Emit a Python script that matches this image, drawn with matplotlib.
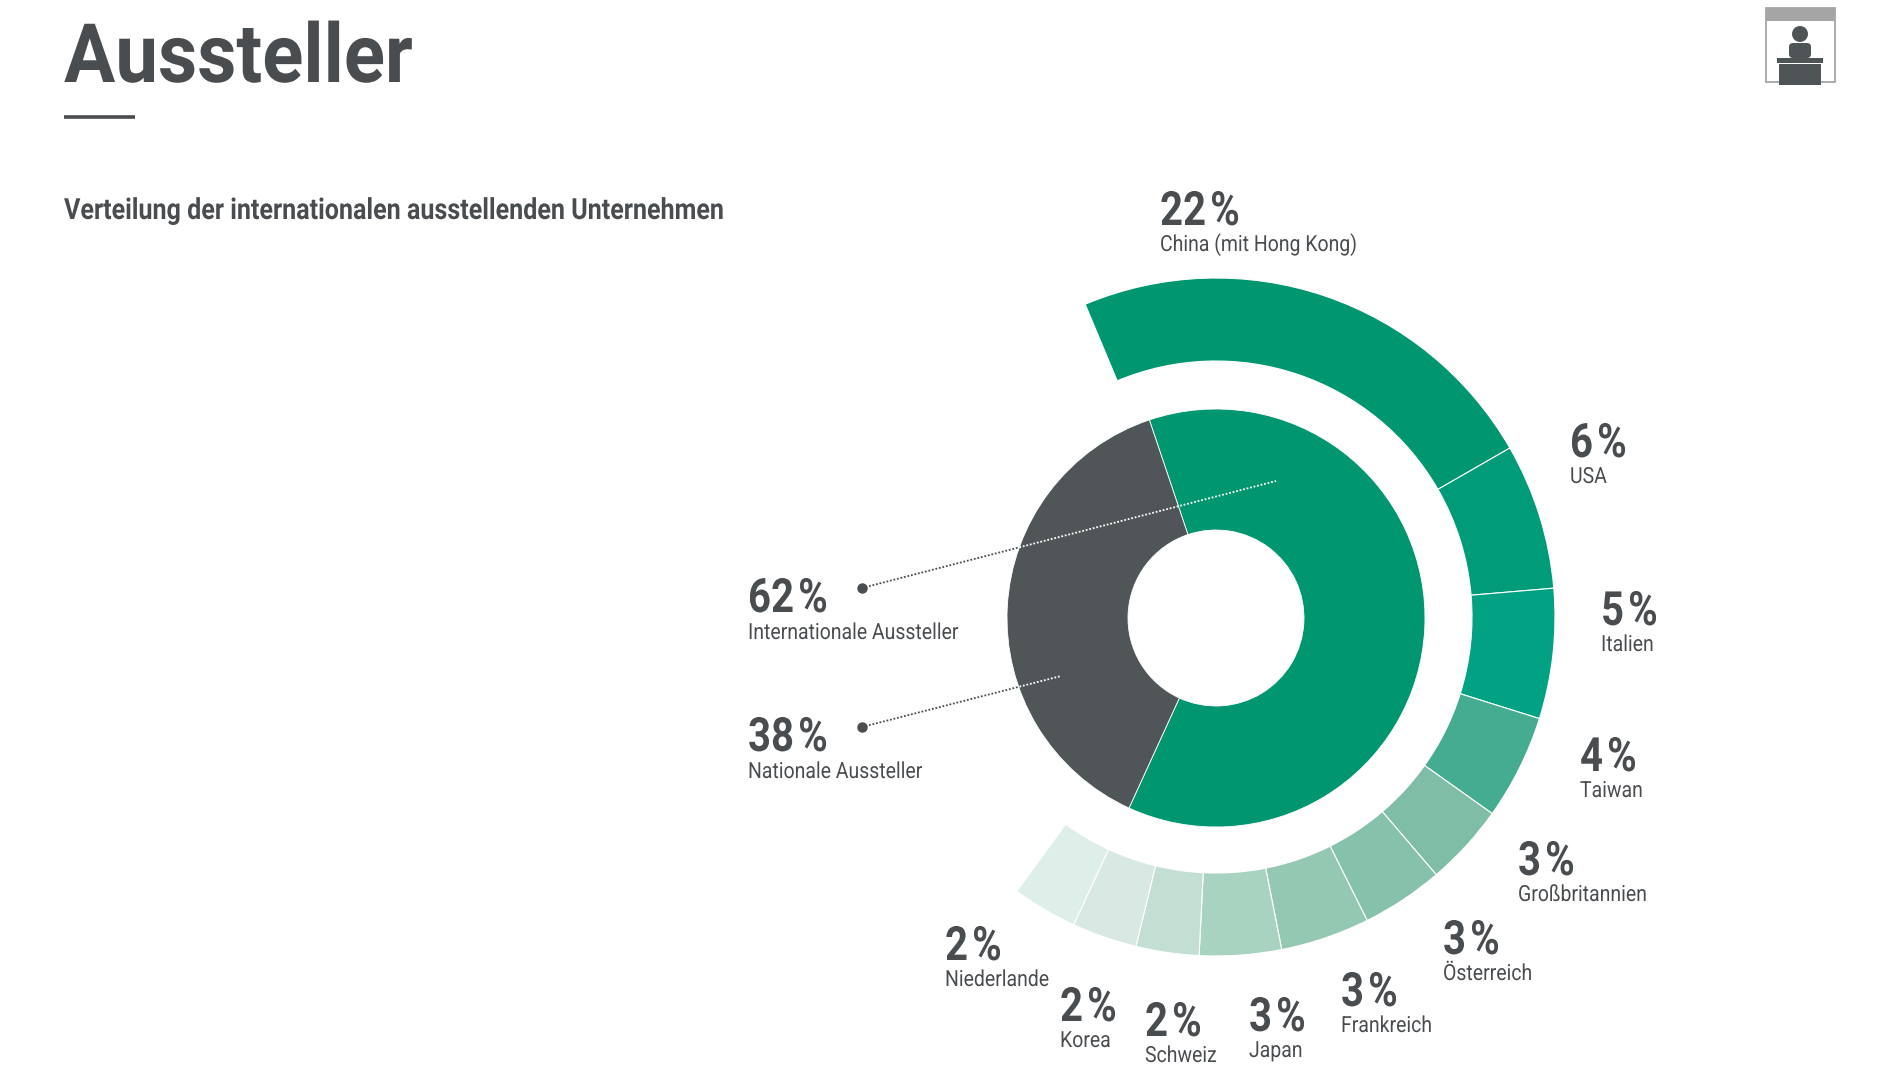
import matplotlib
matplotlib.use('Agg')
import matplotlib.pyplot as plt
from matplotlib.patches import Circle, Rectangle, FancyBboxPatch
from matplotlib.patheffects import AbstractPathEffect
from matplotlib.transforms import Affine2D

# outer ring, % labels
countries = ['China (mit Hong Kong)', 'USA', 'Italien', 'Taiwan', 'Großbritannien', 'Österreich',
             'Frankreich', 'Japan', 'Schweiz', 'Korea', 'Niederlande']
country_pct = [22, 6, 5, 4, 3, 3, 3, 3, 2, 2, 2]
# arc length of each segment as drawn, % of the full circle (does not follow the labels exactly)
country_arc = [23.0, 6.95, 6.2, 5.0, 3.9, 3.9, 4.25, 3.9, 3.0, 3.1, 3.1]
country_col = ['#00966F', '#009B78', '#00A283', '#45AC91', '#7FBDA6', '#85C1AB',
               '#95C8B3', '#A9D3C1', '#C3DFD3', '#D8E9E3', '#DEEEE9']

# inner ring
groups = ['Internationale Aussteller', 'Nationale Aussteller']
group_pct = [62, 38]
group_col = ['#00966F', '#505558']

TEXT = '#4A4D50'
FONT = ['Roboto', 'DejaVu Sans']
H = 1069
cx, cy = 1216, H - 618


# no condensed font installed, so squeeze the glyphs sideways around the text origin
class Squeeze(AbstractPathEffect):
    def __init__(self, sx):
        super().__init__()
        self.sx = sx

    def draw_path(self, renderer, gc, tpath, affine, rgbFace=None):
        m = affine.get_matrix().copy()
        m[0, 0] *= self.sx
        m[0, 1] *= self.sx
        renderer.draw_path(gc, tpath, Affine2D(m), rgbFace)


def label(x, y, s, size, sx, weight='normal'):
    ax.text(x, H - y, s, fontsize=size, fontweight=weight, color=TEXT, family=FONT,
            va='baseline', path_effects=[Squeeze(sx)])


fig = plt.figure(figsize=(19, 10.69), dpi=100)
ax = fig.add_axes([0, 0, 1, 1])

gap = 100 - sum(country_arc)
w_out, _ = ax.pie(country_arc + [gap], colors=country_col + ['white'], center=(cx, cy + 1), radius=339,
                  startangle=112.7, counterclock=False, frame=True,
                  wedgeprops=dict(width=83, edgecolor='white', linewidth=0.8))
w_out[-1].set_visible(False)
ax.pie(group_pct, colors=group_col, center=(cx, cy), radius=209,
       startangle=108.6, counterclock=False, frame=True,
       wedgeprops=dict(width=121, edgecolor='white', linewidth=0.6))

ax.set_xlim(0, 1900)
ax.set_ylim(0, H)
ax.set_aspect('equal')
ax.axis('off')

# leader lines: dark on white, white dots on top of the donut
leader_x = [[862, 1276], [862, 1061]]
leader_y = [[588, 481], [727, 676]]
donut = Circle((cx, cy), 209, transform=ax.transData)
for xs, ys in zip(leader_x, leader_y):
    yy = [H - y for y in ys]
    ax.plot(xs, yy, color=TEXT, lw=1.3, ls=(0, (1, 1)), zorder=0.5)
    ax.plot(xs[0], yy[0], 'o', color=TEXT, ms=6.5, zorder=3)
    ln, = ax.plot(xs, yy, color='white', lw=1.3, ls=(0, (1, 1)), zorder=3)
    ln.set_clip_path(donut)

# labels
label_x = [1160, 1570, 1601, 1580, 1518, 1443, 1341, 1249, 1145, 1060, 945]
label_y = [225, 457, 625, 771, 875, 954, 1006, 1031, 1036, 1021, 960]
for name, p, x, y in zip(countries, country_pct, label_x, label_y):
    label(x, y, f'{p}\u200a%', 34, 0.85, 'bold')
    label(x, y + 26, name, 16, 0.875)

group_y = [612, 751]
for name, p, y in zip(groups, group_pct, group_y):
    label(748, y, f'{p}\u200a%', 34, 0.85, 'bold')
    label(748, y + 27, name, 16, 0.875)

# header
label(64, 82, 'Aussteller', 59, 0.93, 'bold')
ax.plot([64, 135], [H - 117, H - 117], color=TEXT, lw=2.6, solid_capstyle='butt')
label(64, 219, 'Verteilung der internationalen ausstellenden Unternehmen', 21, 0.86, 'bold')

# icon top right
DARK = '#4F5457'
ax.add_patch(Rectangle((1766, H - 82), 69, 74, fc='white', ec='#A5A5A5', lw=1.3))
ax.add_patch(Rectangle((1766, H - 21), 69, 13, fc='#A5A5A5', ec='none'))
ax.add_patch(Circle((1800, H - 34), 8, fc=DARK, ec='none'))
ax.add_patch(FancyBboxPatch((1789, H - 58), 22, 15, boxstyle='round,pad=0,rounding_size=4', fc=DARK, ec='none'))
ax.add_patch(Rectangle((1777, H - 63), 46, 5.5, fc=DARK, ec='none'))
ax.add_patch(Rectangle((1779, H - 85), 42, 21, fc=DARK, ec='none'))

fig.savefig('out.png', dpi=100, facecolor='white')
